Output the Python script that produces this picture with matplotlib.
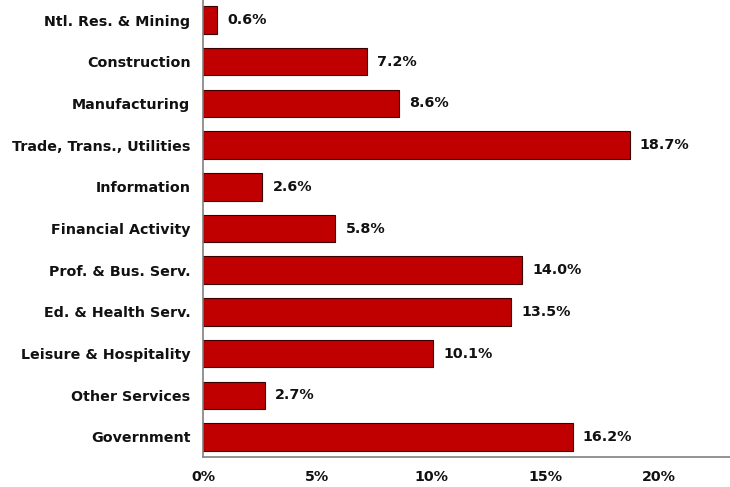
import matplotlib
matplotlib.use("Agg")
import matplotlib.pyplot as plt

categories = ["Ntl. Res. & Mining", "Construction", "Manufacturing", "Trade, Trans., Utilities",
              "Information", "Financial Activity", "Prof. & Bus. Serv.", "Ed. & Health Serv.",
              "Leisure & Hospitality", "Other Services", "Government"]
values = [0.6, 7.2, 8.6, 18.7, 2.6, 5.8, 14.0, 13.5, 10.1, 2.7, 16.2]
xticks = [0, 5, 10, 15, 20]
xtick_labels = ["0%", "5%", "10%", "15%", "20%"]

plt.rcParams['font.family'] = ['DejaVu Sans']
fig = plt.figure(figsize=(7.3, 4.87), dpi=100)
ax = fig.add_axes([0.278, 0.0616, 0.722, 0.9384])

y = list(range(len(categories)))
ax.barh(y, values, height=0.66, color="#C00000", edgecolor="#3a0000", linewidth=0.8)
for yi, v in zip(y, values):
    ax.text(v + 0.45, yi, f"{v:.1f}%", va="center", ha="left", fontsize=10.3,
            fontweight="bold", color="#111111")

ax.set_yticks(y)
ax.set_yticklabels(categories, fontsize=10.3, fontweight="bold", color="#111111")
ax.set_xticks(xticks)
ax.set_xticklabels(xtick_labels, fontsize=10.3, fontweight="bold", color="#111111")
ax.set_xlim(0, 23.1)
ax.set_ylim(10.48, -0.48)
ax.tick_params(axis="both", length=0)
ax.tick_params(axis="y", pad=9)
ax.tick_params(axis="x", pad=9)
for s in ["top", "right"]:
    ax.spines[s].set_visible(False)
for s in ["left", "bottom"]:
    ax.spines[s].set_color("#808080")
    ax.spines[s].set_linewidth(1.2)

fig.savefig("out.png", dpi=100)
